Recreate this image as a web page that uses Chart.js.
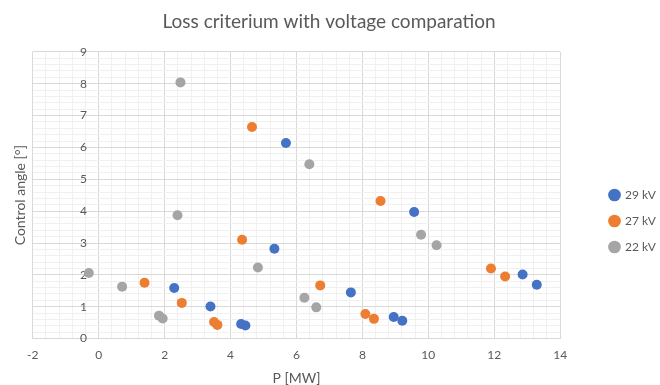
<!DOCTYPE html>
<html>
<head>
<meta charset="utf-8">
<script src="https://cdn.jsdelivr.net/npm/chart.js@4/dist/chart.umd.min.js"></script>
<style>
    html, body { margin: 0; padding: 0; background: #fff; }
    #wrap { width: 660px; height: 385px; }
</style>
</head>
<body>
<div id="wrap"><canvas id="chart"></canvas></div>
<script>
const seriesNames = ['29 kV', '27 kV', '22 kV'];
const seriesColors = ['#4472C4', '#ED7D31', '#A5A5A5'];

// P [MW] / control angle [°]
const p29 = [5.68, 9.57, 5.33, 2.29, 3.39, 4.32, 4.45, 7.65, 8.95, 9.21, 12.86, 13.29];
const angle29 = [6.14, 3.97, 2.82, 1.59, 1.01, 0.46, 0.41, 1.45, 0.68, 0.56, 2.01, 1.69];

const p27 = [4.65, 8.55, 4.35, 1.39, 2.52, 3.50, 3.60, 6.72, 8.09, 8.35, 11.90, 12.33];
const angle27 = [6.64, 4.32, 3.10, 1.75, 1.12, 0.52, 0.43, 1.67, 0.77, 0.62, 2.20, 1.95];

const p22 = [2.48, 6.39, 2.39, -0.30, 0.71, 1.83, 1.94, 4.83, 6.24, 6.60, 9.78, 10.25];
const angle22 = [8.04, 5.47, 3.87, 2.06, 1.63, 0.72, 0.63, 2.23, 1.28, 0.98, 3.26, 2.93];

const xRange = [-2, 14];
const yRange = [0, 9];

function toPoints(xs, ys) {
    return xs.map((x, i) => ({x: x, y: ys[i]}));
}

const allP = [p29, p27, p22];
const allAngle = [angle29, angle27, angle22];

const datasets = seriesNames.map((name, i) => ({
    label: name,
    data: toPoints(allP[i], allAngle[i]),
    backgroundColor: seriesColors[i],
    borderColor: seriesColors[i],
    pointRadius: 5,
    pointHoverRadius: 5,
    borderWidth: 0
}));

const isMultiple = (v, step) => Math.abs(v / step - Math.round(v / step)) < 1e-6;
const textColor = '#595959';
const fontFamily = 'Lato, "Open Sans", sans-serif';

// legend sits further right and lower than Chart.js puts it, title a bit right
const legendShift = {
    id: 'legendShift',
    afterLayout(chart) {
        const legend = chart.legend;
        const w = legend.right - legend.left;
        const h = legend.bottom - legend.top;
        legend.left = 596;
        legend.right = legend.left + w;
        legend.top = 175;
        legend.bottom = legend.top + h;

        const title = chart.titleBlock;
        title.left += 8;
        title.right += 8;
    }
};

new Chart(document.getElementById('chart'), {
    type: 'scatter',
    data: {datasets: datasets},
    plugins: [legendShift],
    options: {
        responsive: true,
        maintainAspectRatio: false,
        animation: false,
        layout: {
            padding: {left: 12, right: 30, top: 8, bottom: 0}
        },
        plugins: {
            title: {
                display: true,
                text: 'Loss criterium with voltage comparation',
                color: textColor,
                font: {family: fontFamily, size: 19, weight: 'normal'},
                padding: {top: 2, bottom: 19}
            },
            legend: {
                position: 'right',
                align: 'start',
                labels: {
                    usePointStyle: true,
                    pointStyle: 'circle',
                    boxWidth: 9,
                    boxHeight: 9,
                    padding: 14,
                    color: textColor,
                    font: {family: fontFamily, size: 12}
                }
            },
            tooltip: {enabled: false}
        },
        scales: {
            x: {
                type: 'linear',
                min: xRange[0],
                max: xRange[1],
                ticks: {
                    stepSize: 0.4,
                    autoSkip: false,
                    maxRotation: 0,
                    padding: 9,
                    color: textColor,
                    font: {family: fontFamily, size: 12},
                    callback: v => isMultiple(v, 2) ? Math.round(v) : ''
                },
                grid: {
                    drawTicks: false,
                    color: ctx => isMultiple(ctx.tick.value, 2) ? '#d9d9d9' : '#f0f0f0'
                },
                border: {display: false},
                title: {
                    display: true,
                    text: 'P [MW]',
                    color: textColor,
                    font: {family: fontFamily, size: 14, lineHeight: 1},
                    padding: 0
                }
            },
            y: {
                type: 'linear',
                // labels end a little left of the x = 0 line
                position: {x: -0.36},
                min: yRange[0],
                max: yRange[1],
                ticks: {
                    stepSize: 0.2,
                    autoSkip: false,
                    color: textColor,
                    font: {family: fontFamily, size: 12},
                    callback: v => isMultiple(v, 1) ? Math.round(v) : ''
                },
                grid: {
                    drawTicks: false,
                    color: ctx => isMultiple(ctx.tick.value, 1) ? '#d9d9d9' : '#f0f0f0'
                },
                border: {display: false}
            },
            yTitle: {
                type: 'linear',
                position: 'left',
                ticks: {display: false},
                grid: {display: false, drawTicks: false},
                border: {display: false},
                title: {
                    display: true,
                    text: 'Control angle [°]',
                    color: textColor,
                    font: {family: fontFamily, size: 14},
                    padding: {top: 0, bottom: 4}
                }
            }
        }
    }
});
</script>
</body>
</html>
